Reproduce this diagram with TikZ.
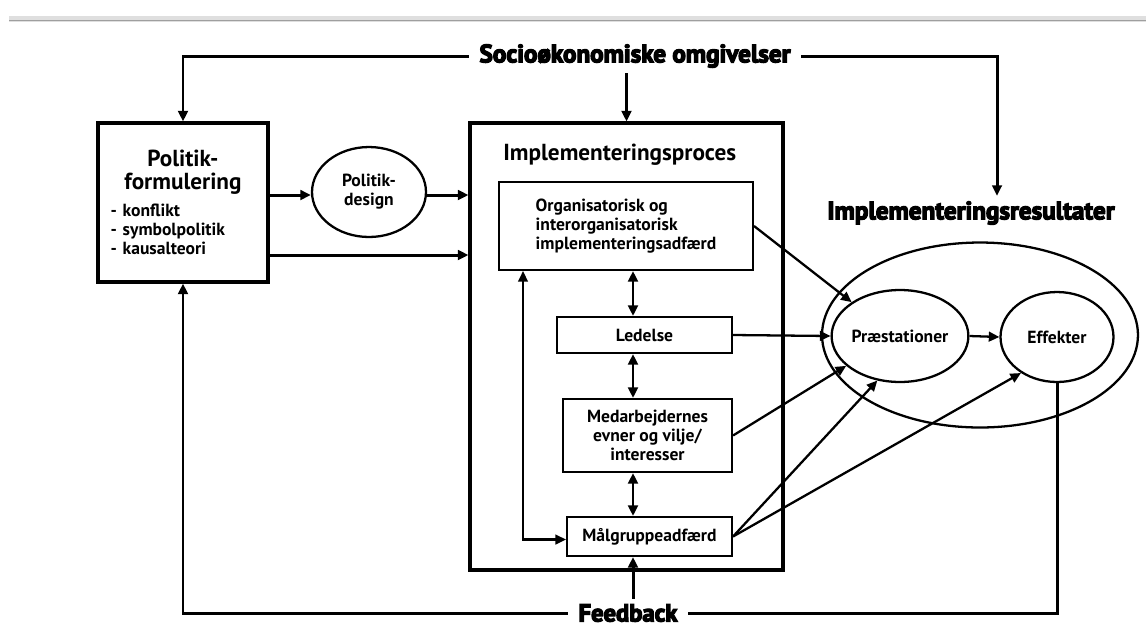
\documentclass[tikz,border=0pt]{standalone}
\usepackage{fontspec}
\setmainfont{PT Sans}
\newfontfamily\heavyfont[BoldFeatures={FakeBold=5}]{PT Sans}
\usetikzlibrary{positioning,calc,arrows.meta,shapes.geometric}

\tikzset{
    bigbox/.style={draw, line width=1.8pt, inner sep=0pt},
    smallbox/.style={draw, line width=1.2pt, align=center,
        font=\bfseries\fontsize{10}{10.8}\selectfont},
    oval/.style={draw, ellipse, line width=1.3pt, inner sep=0pt, align=center,
        font=\bfseries\fontsize{10}{10.8}\selectfont},
    heading/.style={font=\heavyfont\bfseries\fontsize{14.3}{16}\selectfont, inner xsep=6pt, inner ysep=3pt},
    arr/.style={-{Triangle[length=6pt,width=5.5pt]}, line width=1.7pt},
    darr/.style={{Triangle[length=6pt,width=5.5pt]}-{Triangle[length=6pt,width=5.5pt]}, line width=1.6pt},
    thinarr/.style={-{Triangle[length=6pt,width=5.5pt]}, line width=1.3pt}
}

\begin{document}
\begin{tikzpicture}[x=0.02cm, y=-0.02cm]
    \useasboundingbox (0,0) rectangle (1146,637);

    % rule at the top
    \fill[gray!25] (9,16) rectangle (1146,22);
    \draw[gray!75, line width=0.8pt] (9,20.5) -- (1146,20.5);

    % boxes on the left
    \node[bigbox, minimum width=3.4cm, minimum height=3.18cm, text width=2.9cm, align=left,
        font=\bfseries\fontsize{10}{10.8}\selectfont] (politik) at (183,202.5)
        {{\centering\fontsize{13.2}{13}\selectfont Politik-\\formulering\par}
         \vspace{4.5pt}
         - konflikt\\- symbolpolitik\\- kausalteori};
    \node[oval, minimum width=2.28cm, minimum height=1.8cm] (design) at (369,192) {Politik-\\design};

    % implementation process
    \node[bigbox, minimum width=6.26cm, minimum height=8.94cm] (impl) at (626.5,346.5) {};
    \node[anchor=west, inner sep=0pt, font=\bfseries\fontsize{13.2}{14}\selectfont] (impltitle) at (503,155) {Implementeringsproces};
    \node[smallbox, align=left, minimum width=5.08cm, minimum height=1.76cm] (org) at (626,226)
        {Organisatorisk og\\interorganisatorisk\\implementeringsadfærd};
    \node[smallbox, minimum width=3.5cm, minimum height=0.72cm] (ledelse) at (644.5,335) {Ledelse};
    \node[smallbox, minimum width=3.38cm, minimum height=1.46cm] (medarb) at (647.5,435.5)
        {Medarbejdernes\\evner og vilje/\\interesser};
    \node[smallbox, minimum width=3.3cm, minimum height=0.78cm] (malgr) at (649.5,536.5) {Målgruppeadfærd};
    \coordinate (spine) at (633,0);
    \coordinate (loopx) at (523,0);

    % results
    \node[heading] (resultat) at (971,213) {Implementeringsresultater};
    \node[oval, minimum width=6.32cm, minimum height=3.7cm] (result) at (980,335) {};
    \node[oval, minimum width=2.3cm, minimum height=1.84cm] (praest) at (900,336) {Præstationer};
    \node[oval, minimum width=2.26cm, minimum height=1.8cm] (effekt) at (1057,337) {Effekter};
    \coordinate (resdrop) at (997,0);

    % surroundings and feedback
    \node[heading] (socio) at (635,56) {Socioøkonomiske omgivelser};
    \node[heading, font=\heavyfont\bfseries\fontsize{14}{16}\selectfont] (feedback) at (628,613) {Feedback};

    \draw[arr] (socio.west) -| (politik.north);
    \draw[arr] (socio.east) -| (resdrop |- resultat.north);
    \draw[arr] (socio.south -| impl.north) -- (impl.north);
    \draw[arr] (feedback.west) -| (politik.south);
    \draw[line width=1.7pt] (feedback.east) -| (effekt.south);
    \draw[arr] (feedback.north -| spine) -- (malgr.south -| spine);

    \draw[arr] (politik.east |- 0,195) -- (design.west |- 0,195);
    \draw[arr] (design.east |- 0,195) -- (impl.west |- 0,195);
    \draw[arr] (politik.east |- 0,255) -- (impl.west |- 0,255);

    \draw[darr] (org.south -| spine) -- (ledelse.north -| spine);
    \draw[darr] (ledelse.south -| spine) -- (medarb.north -| spine);
    \draw[darr] (medarb.south -| spine) -- (malgr.north -| spine);
    \draw[darr, line width=1.2pt] (org.south -| loopx) |- ($(malgr.west)+(0,3)$);

    \draw[thinarr] (org.east) -- (praest.145);
    \draw[thinarr] (ledelse.east) -- (praest.west);
    \draw[thinarr] (medarb.east) -- (praest.209);
    \draw[thinarr] (malgr.east) -- (praest.243);
    \draw[thinarr] (malgr.east) -- (effekt.225);
    \draw[thinarr] (praest.east) -- (effekt.west);
\end{tikzpicture}
\end{document}
